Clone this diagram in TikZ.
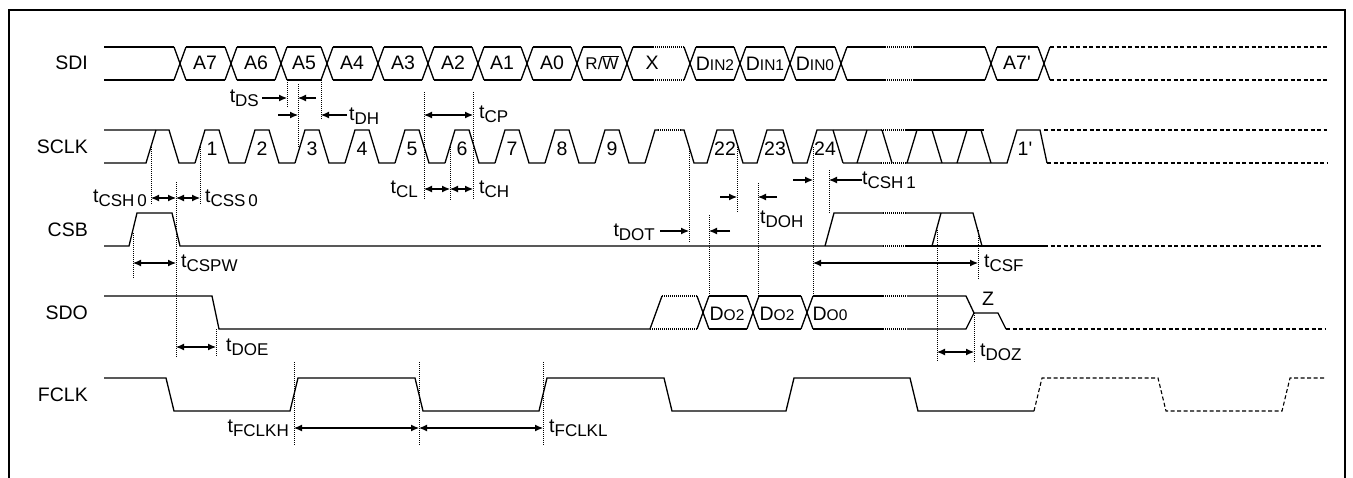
\documentclass[tikz,border=0pt]{standalone}
\usepackage{fontspec}
\setmainfont{Liberation Sans}
\usetikzlibrary{arrows.meta}
\newcommand{\tlab}[1]{t\raisebox{-0.22em}{\fontsize{17}{18}\selectfont #1}}
\newcommand{\blab}[2]{#1{\fontsize{15.5}{16}\selectfont #2}}

\begin{document}
\begin{tikzpicture}[x=1pt,y=-1pt,
    wave/.style={line width=1.3pt},
    brk/.style={line width=1.1pt,dash pattern=on 1pt off 1pt},
    cont/.style={line width=1.1pt,dash pattern=on 4pt off 2.5pt},
    guide/.style={line width=0.8pt,dash pattern=on 1pt off 1pt},
    dim/.style={line width=1.1pt,-{Latex[length=8pt,width=7pt]}},
    dimb/.style={line width=1.1pt,{Latex[length=8pt,width=7pt]}-{Latex[length=8pt,width=7pt]}},
    txt/.style={font=\fontsize{19.5}{21}\selectfont,inner sep=0pt}]
    \useasboundingbox (0,0) rectangle (1353,477);
    \draw[line width=2pt] (9,480) -- (9,10) -- (1345,10) -- (1345,480);

    \node[txt,anchor=east] (sdi) at (88,63) {SDI};
    \node[txt,anchor=east] (sclk) at (88,147) {SCLK};
    \node[txt,anchor=east] (csb) at (88,230) {CSB};
    \node[txt,anchor=east] (sdo) at (88,313) {SDO};
    \node[txt,anchor=east] (fclk) at (88,395) {FCLK};

    \draw[wave] (104,47) -- (174,47) (104,80) -- (174,80);
    \foreach \c in {180,231,281,327,378,428,478,527,577,627,690,740,790,841,991,1044}
      \draw[wave] (\c-6,47) -- (\c+6,80) (\c-6,80) -- (\c+6,47);
    \foreach \a/\b in {180/231,231/281,281/327,327/378,378/428,428/478,478/527,527/577,577/627,690/740,740/790,790/841,991/1044}
      \draw[wave] (\a+6,47) -- (\b-6,47) (\a+6,80) -- (\b-6,80);
    \draw[wave] (633,47) -- (653,47) (633,80) -- (653,80);
    \draw[brk] (653,47) -- (684,47) (653,80) -- (684,80);
    \draw[wave] (847,47) -- (885,47) (913,47) -- (985,47) (847,80) -- (885,80) (913,80) -- (985,80);
    \draw[brk] (885,47) -- (913,47) (885,80) -- (913,80);
    \draw[cont] (1050,47) -- (1327,47) (1050,80) -- (1327,80);
    \foreach \x/\t in {205/A7,256/A6,304/A5,352/A4,403/A3,453/A2,502/A1,552/A0}
      \node[txt] (sdi\t) at (\x,63) {\t};
    \node[txt,font=\fontsize{17}{18}\selectfont] (rw) at (602,63) {R/$\overline{\mbox{W}}$};
    \node[txt] (dx) at (652,63) {X};
    \node[txt] (din2) at (715,64) {\blab{D}{IN2}};
    \node[txt] (din1) at (765,64) {\blab{D}{IN1}};
    \node[txt] (din0) at (815,64) {\blab{D}{IN0}};
    \node[txt] (a7b) at (1017,63) {A7\textquotesingle};

    \draw[wave] (104,130) -- (169,130) -- (179,163) -- (195,163);
    \draw[wave] (104,163) -- (146,163) -- (156,130);
    \foreach \m/\n in {200/1,250/2,300/3,350/4,400/5,450/6,500/7,550/8,600/9}{
      \draw[wave] (\m-5,163) -- (\m+5,130) -- (\m+19,130) -- (\m+29,163) -- (\m+45,163);
      \node[txt] (clk\n) at (\m+12,149) {\n};}
    \draw[wave] (645,163) -- (655,130) -- (658,130);
    \draw[brk] (658,130) -- (681,130);
    \draw[wave] (681,130) -- (684,130) -- (694,163) -- (707,163) -- (717,130) -- (733,130) -- (743,163) -- (757,163) -- (767,130) -- (783,130) -- (793,163) -- (807,163) -- (817,130) -- (881,130);
    \draw[brk] (881,130) -- (906,130) (881,163) -- (906,163);
    \draw[wave] (906,130) -- (984,130);
    \draw[wave] (843,163) -- (881,163) (906,163) -- (1007,163) -- (1017,130) -- (1040,130) -- (1047,163);
    \foreach \s in {838,887,937,986}
      \draw[wave] (\s-5,130) -- (\s+5,163);
    \foreach \s in {862,912,962}
      \draw[wave] (\s-5,163) -- (\s+5,130);
    \draw[cont] (1044,130) -- (1327,130) (1047,163) -- (1327,163);
    \node[txt] (clk22) at (725,149) {22};
    \node[txt] (clk23) at (775,149) {23};
    \node[txt] (clk24) at (825,149) {24};
    \node[txt] (clk1b) at (1025,149) {1\textquotesingle};

    \draw[wave] (104,246) -- (129,246) -- (137,213) -- (172,213) -- (180,246) -- (883,246);
    \draw[brk] (883,246) -- (906,246) (883,213) -- (906,213);
    \draw[wave] (906,246) -- (1044,246);
    \draw[wave] (825,246) -- (834,213) -- (883,213) (906,213) -- (973,213) -- (982,246);
    \draw[wave] (932,246) -- (941,213);
    \draw[cont] (1044,246) -- (1323,246);

    \draw[wave] (104,296) -- (212,296) -- (219,329) -- (650,329) -- (662,296);
    \draw[brk] (650,329) -- (697,329) (662,296) -- (697,296);
    \foreach \c in {703,753,807}
      \draw[wave] (\c-6,296) -- (\c+6,329) (\c-6,329) -- (\c+6,296);
    \draw[wave] (709,296) -- (747,296) (709,329) -- (747,329) (759,296) -- (801,296) (759,329) -- (801,329);
    \draw[wave] (813,296) -- (883,296) (813,329) -- (883,329);
    \draw[brk] (883,296) -- (907,296) (883,329) -- (907,329);
    \draw[wave] (907,296) -- (966,296) -- (974,313) -- (998,313) -- (1006,329) (907,329) -- (966,329) -- (974,313);
    \draw[cont] (1006,329) -- (1325,329);
    \node[txt] (do2a) at (727,314) {\blab{D}{O2}};
    \node[txt] (do2b) at (777,314) {\blab{D}{O2}};
    \node[txt] (do0) at (830,314) {\blab{D}{O0}};
    \node[txt] (zz) at (988,299) {Z};

    \draw[wave] (104,378) -- (166,378) -- (174,411) -- (290,411) -- (298,378) -- (415,378) -- (423,411) -- (539,411) -- (547,378) -- (664,378) -- (672,411) -- (786,411) -- (794,378) -- (910,378) -- (918,411) -- (1034,411);
    \draw[cont] (1034,411) -- (1042,378) -- (1158,378) -- (1166,411) -- (1282,411) -- (1290,378) -- (1325,378);

    \draw[guide] (287,80) -- (287,108);
    \draw[guide] (298,84) -- (298,147);
    \draw[guide] (321,80) -- (321,120);
    \draw[guide] (424,92) -- (424,200) (473,92) -- (473,200) (450,147) -- (450,200);
    \draw[guide] (151,147) -- (151,205) (200,147) -- (200,205);
    \draw[guide] (176,182) -- (176,357) (133,233) -- (133,278) (216,329) -- (216,357);
    \draw[guide] (689,147) -- (689,242) (709,215) -- (709,296) (737,147) -- (737,213) (758,183) -- (758,296);
    \draw[guide] (813,147) -- (813,296) (829,170) -- (829,213);
    \draw[guide] (937,230) -- (937,362) (978,230) -- (978,280) (974,313) -- (974,362);
    \draw[guide] (294,362) -- (294,445) (419,362) -- (419,445) (543,362) -- (543,445);

    \node[txt,anchor=east] (tds) at (259,98) {\tlab{DS}};
    \draw[dim] (262,98) -- (287,98);
    \draw[dim] (316,98) -- (298,98);
    \draw[dim] (278,115) -- (298,115);
    \draw[dim] (347,115) -- (321,115);
    \node[txt,anchor=west] (tdh) at (349,116) {\tlab{DH}};
    \draw[dimb] (424,115) -- (473,115);
    \node[txt,anchor=west] (tcp) at (479,114) {\tlab{CP}};
    \node[txt,anchor=east] (tcsh0) at (147,198) {\tlab{CSH\,0}};
    \draw[dimb] (151,198) -- (176,198);
    \draw[dimb] (176,198) -- (200,198);
    \node[txt,anchor=west] (tcss0) at (205,198) {\tlab{CSS\,0}};
    \node[txt,anchor=east] (tcl) at (418,189) {\tlab{CL}};
    \draw[dimb] (424,189) -- (450,189);
    \draw[dimb] (450,189) -- (473,189);
    \node[txt,anchor=west] (tch) at (479,189) {\tlab{CH}};
    \draw[dimb] (133,263) -- (176,263);
    \node[txt,anchor=west] (tcspw) at (181,263) {\tlab{CSPW}};
    \draw[dimb] (176,347) -- (216,347);
    \node[txt,anchor=west] (tdoe) at (226,347) {\tlab{DOE}};
    \node[txt,anchor=east] (tdot) at (655,232) {\tlab{DOT}};
    \draw[dim] (660,231) -- (689,231);
    \draw[dim] (730,231) -- (709,231);
    \draw[dim] (720,197) -- (737,197);
    \draw[dim] (777,197) -- (758,197);
    \node[txt,anchor=west] (tdoh) at (760,219) {\tlab{DOH}};
    \draw[dim] (793,180) -- (813,180);
    \draw[dim] (862,180) -- (829,180);
    \node[txt,anchor=west] (tcsh1) at (862,180) {\tlab{CSH\,1}};
    \draw[dimb] (813,263) -- (978,263);
    \node[txt,anchor=west] (tcsf) at (984,263) {\tlab{CSF}};
    \draw[dimb] (937,352) -- (974,352);
    \node[txt,anchor=west] (tdoz) at (980,352) {\tlab{DOZ}};
    \node[txt,anchor=east] (tfclkh) at (289,428) {\tlab{FCLKH}};
    \draw[dimb] (294,428) -- (419,428);
    \draw[dimb] (419,428) -- (543,428);
    \node[txt,anchor=west] (tfclkl) at (549,428) {\tlab{FCLKL}};
\end{tikzpicture}
\end{document}
